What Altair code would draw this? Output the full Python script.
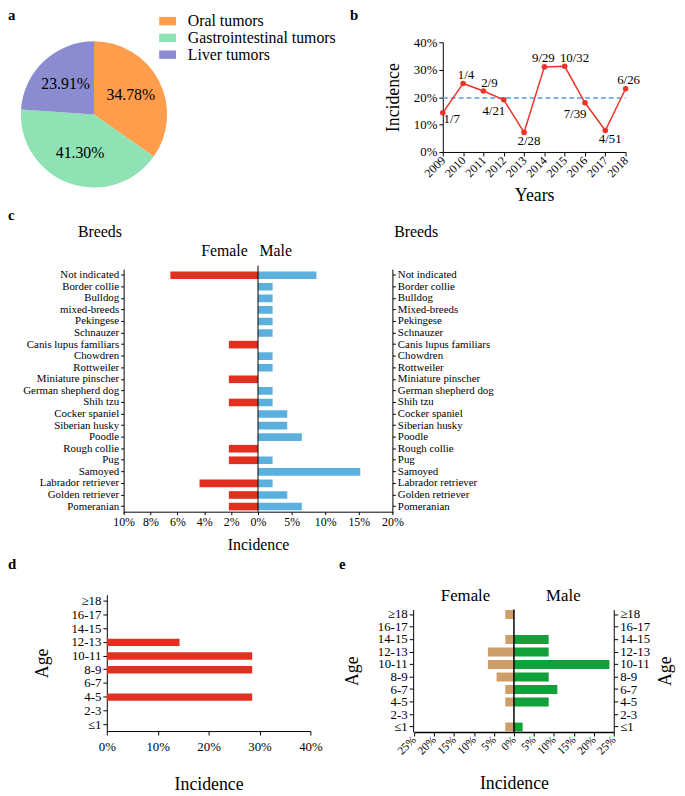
import altair as alt
import pandas as pd

FONT = "Liberation Serif"
W, H = 677, 788


def X(v):
    return v - 8


def Y(v):
    return v - 8


# ---------------- data ----------------
# a
tumor_types = ["Oral tumors", "Gastrointestinal tumors", "Liver tumors"]
tumor_share = [34.78, 41.30, 23.91]
tumor_colors = ["#FF9D4D", "#8EE2B4", "#8B8CCF"]

# b
years = ["2009", "2010", "2011", "2012", "2013", "2014", "2015", "2016", "2017", "2018"]
cases = [1, 1, 2, 4, 2, 9, 10, 7, 4, 6]
totals = [7, 4, 9, 21, 28, 29, 32, 39, 51, 26]
mean_incidence = 0.197

# c
breeds = ["Not indicated", "Border collie", "Bulldog", "mixed-breeds", "Pekingese",
          "Schnauzer", "Canis lupus familiars", "Chowdren", "Rottweiler",
          "Miniature pinscher", "German shepherd dog", "Shih tzu", "Cocker spaniel",
          "Siberian husky", "Poodle", "Rough collie", "Pug", "Samoyed",
          "Labrador retriever", "Golden retriever", "Pomeranian"]
female_breed = [6.52, 0, 0, 0, 0, 0, 2.17, 0, 0, 2.17, 0, 2.17, 0, 0, 0,
                2.17, 2.17, 0, 4.35, 2.17, 2.17]
male_breed = [8.70, 2.17, 2.17, 2.17, 2.17, 2.17, 0, 2.17, 2.17, 0, 2.17, 2.17,
              4.35, 4.35, 6.52, 0, 2.17, 15.22, 2.17, 4.35, 6.52]

# d / e
age_groups = ["≥18", "16-17", "14-15", "12-13", "10-11", "8-9", "6-7", "4-5", "2-3", "≤1"]
age_incidence = [0, 0, 0, 14.29, 28.57, 28.57, 0, 28.57, 0, 0]
female_age = [2.17, 0, 2.17, 6.52, 6.52, 4.35, 2.17, 2.17, 0, 2.17]
male_age = [0, 0, 8.70, 8.70, 23.91, 8.70, 10.87, 8.70, 0, 2.17]

RED = "#E1301F"
LINE_RED = "#E8352A"
BLUE = "#5BB0DE"
TAN = "#CC9E6A"
GREEN = "#12A03A"

dummy = pd.DataFrame({"k": [0]})

AX = dict(labelFont=FONT, titleFont=FONT, labelColor="black", titleColor="black",
          domainColor="black", tickColor="black", labelOverlap=False, labelFlush=False,
          titleFontWeight="normal", grid=False)


def axis(**kw):
    d = dict(AX)
    d.update(kw)
    return alt.Axis(**d)


# ---------------- panel a ----------------
df_a = pd.DataFrame({"type": tumor_types, "share": tumor_share, "order": [0, 1, 2]})
df_a["label"] = [f"{v:.2f}%" for v in tumor_share]

pie = alt.Chart(df_a).mark_arc(x=X(95), y=Y(111), outerRadius=74).encode(
    theta=alt.Theta("share:Q", stack=True),
    order=alt.Order("order:Q"),
    color=alt.Color(
        "type:N",
        scale=alt.Scale(domain=tumor_types, range=tumor_colors),
        legend=alt.Legend(orient="none", legendX=X(161), legendY=0, title=None,
                          symbolType="M-1,-0.5H1V0.5H-1Z", symbolSize=289,
                          symbolStrokeWidth=0, labelFont=FONT, labelFontSize=16,
                          labelColor="black", labelLimit=400, labelOffset=12,
                          rowPadding=0),
    ),
)
pie_text = alt.Chart(df_a).mark_text(x=X(95), y=Y(111), radius=42, font=FONT,
                                     fontSize=16, color="black").encode(
    theta=alt.Theta("share:Q", stack=True),
    order=alt.Order("order:Q"),
    text="label:N",
)

# ---------------- panel b ----------------
df_b = pd.DataFrame({
    "year": years,
    "inc": [c / t for c, t in zip(cases, totals)],
    "frac": [f"{c}/{t}" for c, t in zip(cases, totals)],
})
xb_scale = alt.Scale(type="point", domain=years, range=[X(448), X(633)], padding=0)
xb_axis = axis(orient="bottom", offset=Y(149) - H, title="Years", titleFontSize=18,
               titlePadding=8, labelFontSize=12, labelAngle=315, labelAlign="right",
               labelBaseline="middle", tickSize=4, labelPadding=2)
yb_scale = alt.Scale(domain=[0, 0.4], range=[Y(149), Y(38)], nice=False)
yb_axis = axis(orient="left", offset=-X(448), values=[0, 0.1, 0.2, 0.3, 0.4],
               format=".0%", title="Incidence", titleFontSize=18, titlePadding=11,
               labelFontSize=13, tickSize=4)

b_base = alt.Chart(df_b).encode(
    x=alt.X("year:N", scale=xb_scale, axis=xb_axis),
    y=alt.Y("inc:Q", scale=yb_scale, axis=yb_axis),
)
b_line = b_base.mark_line(color=LINE_RED, strokeWidth=1.5)
b_pts = b_base.mark_point(filled=True, size=32, color=LINE_RED, opacity=1)
b_mean = alt.Chart(pd.DataFrame({"inc": [mean_incidence]})).mark_rule(
    color="#5B9BE0", strokeDash=[5, 3], strokeWidth=1.5
).encode(
    y=alt.Y("inc:Q", scale=yb_scale, axis=yb_axis),
    x=alt.datum("2009"),
    x2=alt.datum("2018"),
)

label_groups = [
    (["2010", "2018"], 3, -8.5),
    (["2014"], -1, -8.5),
    (["2011"], 6, -8),
    (["2015"], 10, -8),
    (["2012", "2016"], -10, 11),
    (["2013", "2017"], 5, 9),
    (["2009"], 9, 6),
]
b_labels = [
    b_base.transform_filter(alt.FieldOneOfPredicate(field="year", oneOf=grp))
    .mark_text(font=FONT, fontSize=13, color="black", dx=dx, dy=dy, baseline="middle")
    .encode(text="frac:N")
    for grp, dx, dy in label_groups
]
panel_b = alt.layer(b_mean, b_line, b_pts, *b_labels)

# ---------------- panel c ----------------
df_c = pd.DataFrame({"breed": breeds, "female": female_breed, "male": male_breed})
xc_scale = alt.Scale(domain=[-20, 20], range=[X(125), X(397)], nice=False, zero=False)
xc_axis = axis(orient="bottom", offset=Y(513) - H,
               values=[-20, -16, -12, -8, -4, 0, 5, 10, 15, 20],
               labelExpr="(datum.value < 0 ? -datum.value / 2 : datum.value) + '%'",
               labelFontSize=12, tickSize=3, title="Incidence", titleFontSize=16,
               titlePadding=9)
yc_scale = alt.Scale(type="band", domain=breeds, range=[Y(267.5), Y(514)],
                     paddingInner=0.34, paddingOuter=0.2)

c_female = alt.Chart(df_c).transform_filter("datum.female > 0").transform_calculate(
    pos="-2 * datum.female"
).mark_bar(color=RED).encode(
    x=alt.X("pos:Q", scale=xc_scale, axis=xc_axis),
    y=alt.Y("breed:N", scale=yc_scale,
            axis=axis(orient="left", offset=-X(125), title=None, labelFontSize=11,
                      labelPadding=2, tickSize=3, labelLimit=250)),
)
c_male = alt.Chart(df_c).transform_filter("datum.male > 0").mark_bar(color=BLUE).encode(
    x=alt.X("male:Q", scale=xc_scale, axis=xc_axis),
    y=alt.Y("breed:N", scale=yc_scale,
            axis=axis(orient="right", offset=X(397) - W, title=None, labelFontSize=11,
                      labelPadding=2, tickSize=3, labelLimit=250,
                      labelExpr="datum.label == 'mixed-breeds' ? 'Mixed-breeds' : datum.label")),
)
c_center = alt.Chart(dummy).mark_rule(color="black", strokeWidth=1).encode(
    x=alt.XDatum(0, type="quantitative", scale=xc_scale, axis=xc_axis),
    y=alt.value(Y(264)),
    y2=alt.value(Y(513)),
)
panel_c = alt.layer(c_female, c_male, c_center).resolve_axis(y="independent")

# ---------------- panel d ----------------
df_d = pd.DataFrame({"age": age_groups, "inc": age_incidence})
panel_d = alt.Chart(df_d).transform_filter("datum.inc > 0").mark_bar(color=RED).encode(
    x=alt.X("inc:Q", scale=alt.Scale(domain=[0, 40], range=[X(108), X(314)], nice=False),
            axis=axis(orient="bottom", offset=Y(735) - H, values=[0, 10, 20, 30, 40],
                      labelExpr="datum.value + '%'", labelFontSize=13, tickSize=4,
                      labelPadding=6, title="Incidence", titleFontSize=18,
                      titlePadding=22)),
    y=alt.Y("age:N", scale=alt.Scale(type="band", domain=age_groups,
                                     range=[Y(597), Y(735)], paddingInner=0.47,
                                     paddingOuter=0.2),
            axis=axis(orient="left", offset=-X(108), labelFontSize=13, tickSize=4,
                      title="Age", titleFontSize=18, titlePadding=20)),
)

# ---------------- panel e ----------------
df_e = pd.DataFrame({"age": age_groups, "female": female_age, "male": male_age})
xe_scale = alt.Scale(domain=[-25, 25], range=[X(419), X(621)], nice=False, zero=False)
xe_axis = axis(orient="bottom", offset=Y(736) - H, values=list(range(-25, 26, 5)),
               labelExpr="abs(datum.value) + '%'", labelAngle=315, labelAlign="right",
               labelBaseline="middle", labelFontSize=11.5, tickSize=4, labelPadding=2,
               title="Incidence", titleFontSize=18, titlePadding=18, domainWidth=1.5)
ye_scale = alt.Scale(type="band", domain=age_groups, range=[Y(612), Y(736)],
                     paddingInner=0.28, paddingOuter=0.035)

e_female = alt.Chart(df_e).transform_filter("datum.female > 0").transform_calculate(
    pos="-datum.female"
).mark_bar(color=TAN).encode(
    x=alt.X("pos:Q", scale=xe_scale, axis=xe_axis),
    y=alt.Y("age:N", scale=ye_scale,
            axis=axis(orient="left", offset=-X(418), labelFontSize=13, tickSize=4,
                      title="Age", titleFontSize=18, titlePadding=16)),
)
e_male = alt.Chart(df_e).transform_filter("datum.male > 0").mark_bar(color=GREEN).encode(
    x=alt.X("male:Q", scale=xe_scale, axis=xe_axis),
    y=alt.Y("age:N", scale=ye_scale,
            axis=axis(orient="right", offset=X(621) - W, labelFontSize=13, tickSize=4,
                      title="Age", titleFontSize=18, titlePadding=25, titleAngle=270)),
)
e_center = alt.Chart(dummy).mark_rule(color="black", strokeWidth=1.5).encode(
    x=alt.XDatum(0, type="quantitative", scale=xe_scale, axis=xe_axis),
    y=alt.value(Y(612)),
    y2=alt.value(Y(736)),
)
panel_e = alt.layer(e_female, e_male, e_center).resolve_axis(y="independent")


# ---------------- annotations ----------------
def note(text, x, y, size=15, weight="normal", align="center", baseline="middle"):
    return alt.Chart(dummy).mark_text(
        x=x, y=y, font=FONT, fontSize=size, fontWeight=weight, align=align,
        baseline=baseline, color="black"
    ).encode(text=alt.value(text))


notes = [
    note("a", 0, Y(15), 15, "bold", "left", "alphabetic"),
    note("b", X(354), Y(15), 15, "bold", "left", "alphabetic"),
    note("c", 0, Y(218), 15, "bold", "left", "alphabetic"),
    note("d", 0, Y(571), 15, "bold", "left", "alphabetic"),
    note("e", X(343), Y(571), 15, "bold", "left", "alphabetic"),
    note("Breeds", X(101), Y(230), 16),
    note("Breeds", X(421), Y(230), 16),
    note("Female", X(227), Y(249), 16),
    note("Male", X(279), Y(249), 16),
    note("Female", X(471), Y(598), 17),
    note("Male", X(570), Y(598), 17),
]

chart = alt.layer(
    pie, pie_text, panel_b, panel_c, panel_d, panel_e, *notes
).resolve_scale(
    x="independent", y="independent"
).properties(
    width=W, height=H, padding=0, autosize=alt.AutoSizeParams(type="none")
).configure_view(
    stroke=None
).configure_axis(
    domainColor="black", tickColor="black", labelColor="black", titleColor="black",
    grid=False, labelFont=FONT, titleFont=FONT, titleFontWeight="normal",
)

chart.save("out.html", embed_options={"renderer": "svg", "actions": False})
